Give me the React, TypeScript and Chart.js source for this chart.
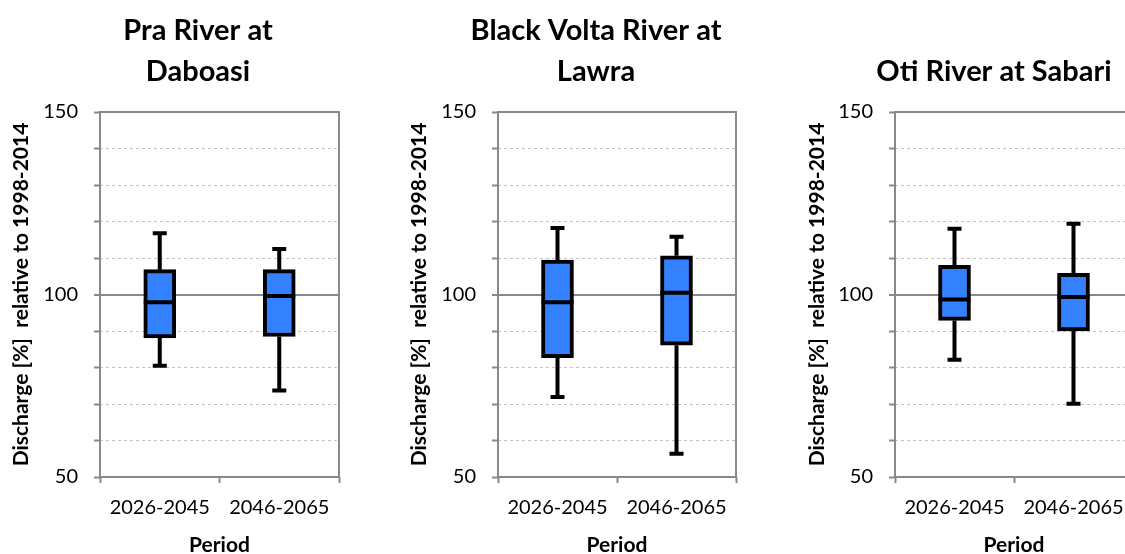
import React, { useEffect, useRef } from 'react';
import { Chart, registerables } from 'chart.js';

Chart.register(...registerables);

// ---- data ----
const categories = ['2026-2045', '2046-2065'];
const yTickLabels = [50, 100, 150];
const yMinorStep = 10;

const panelTitles: (string | string[])[] = [
  ['Pra River at', 'Daboasi'],
  ['Black Volta River at', 'Lawra'],
  'Oti River at Sabari',
];

const praMin = [80.5, 73.7];
const praQ1 = [88.1, 88.5];
const praMedian = [97.9, 99.6];
const praQ3 = [106.8, 106.8];
const praMax = [116.8, 112.5];

const blackVoltaMin = [71.9, 56.4];
const blackVoltaQ1 = [82.7, 86.1];
const blackVoltaMedian = [97.9, 100.5];
const blackVoltaQ3 = [109.4, 110.6];
const blackVoltaMax = [118.2, 115.8];

const otiMin = [82.1, 70.1];
const otiQ1 = [92.9, 90.0];
const otiMedian = [98.6, 99.3];
const otiQ3 = [108.0, 105.8];
const otiMax = [118.0, 119.4];

const yAxisTitle = 'Discharge [%]  relative to 1998-2014';
const xAxisTitle = 'Period';

type Stats = { min: number[]; q1: number[]; med: number[]; q3: number[]; max: number[] };

const panelStats: Stats[] = [
  { min: praMin, q1: praQ1, med: praMedian, q3: praQ3, max: praMax },
  { min: blackVoltaMin, q1: blackVoltaQ1, med: blackVoltaMedian, q3: blackVoltaQ3, max: blackVoltaMax },
  { min: otiMin, q1: otiQ1, med: otiMedian, q3: otiQ3, max: otiMax },
];

// ---- layout / style ----
const CANVAS_W = 396;
const CANVAS_H = 554;
const panelLayout = [
  { left: 0, yAxisW: 100, rightW: 57 },
  { left: 398, yAxisW: 100, rightW: 58 },
  { left: 796, yAxisW: 99, rightW: 59 },
];
const FONT = 'Lato, Carlito, Calibri, "Open Sans", sans-serif';
const BOX_FILL = '#3381ff';
const FRAME_GRAY = '#898989';
const DASH_GRAY = '#c4c4c4';
const BOX_W = 32;
const CAP_W = 14;
const LINE_W = 4;

function makeBoxPlugin(stats: Stats) {
  return {
    id: 'boxWhiskers',
    beforeDatasetsDraw(chart: any) {
      const { ctx, chartArea: a, scales } = chart;
      const x = scales.x;
      const y = scales.y;
      ctx.save();
      ctx.strokeStyle = FRAME_GRAY;
      ctx.lineWidth = 2;
      ctx.strokeRect(a.left, a.top, a.right - a.left, a.bottom - a.top);
      ctx.strokeStyle = '#000';
      ctx.lineWidth = LINE_W;
      ctx.lineCap = 'butt';
      stats.min.forEach((_, i) => {
        const cx = x.getPixelForValue(i);
        const pMin = y.getPixelForValue(stats.min[i]);
        const pQ1 = y.getPixelForValue(stats.q1[i]);
        const pQ3 = y.getPixelForValue(stats.q3[i]);
        const pMax = y.getPixelForValue(stats.max[i]);
        ctx.beginPath();
        ctx.moveTo(cx, pQ3);
        ctx.lineTo(cx, pMax);
        ctx.moveTo(cx, pQ1);
        ctx.lineTo(cx, pMin);
        ctx.moveTo(cx - CAP_W / 2, pMax);
        ctx.lineTo(cx + CAP_W / 2, pMax);
        ctx.moveTo(cx - CAP_W / 2, pMin);
        ctx.lineTo(cx + CAP_W / 2, pMin);
        ctx.stroke();
      });
      ctx.restore();
    },
    afterDatasetsDraw(chart: any) {
      const { ctx, scales } = chart;
      const x = scales.x;
      const y = scales.y;
      ctx.save();
      ctx.strokeStyle = '#000';
      ctx.lineWidth = LINE_W;
      stats.med.forEach((m, i) => {
        const cx = x.getPixelForValue(i);
        const pm = y.getPixelForValue(m);
        ctx.beginPath();
        ctx.moveTo(cx - BOX_W / 2, pm);
        ctx.lineTo(cx + BOX_W / 2, pm);
        ctx.stroke();
      });
      ctx.restore();
    },
  };
}

function Panel({ idx }: { idx: number }) {
  const ref = useRef<HTMLCanvasElement | null>(null);
  useEffect(() => {
    if (!ref.current) return;
    const stats = panelStats[idx];
    const lay = panelLayout[idx];
    const title = panelTitles[idx];
    const isTwoLine = Array.isArray(title);
    const chart = new Chart(ref.current, {
      type: 'bar',
      data: {
        labels: categories,
        datasets: [
          {
            data: stats.q1.map((q, i) => [q, stats.q3[i]]) as any,
            backgroundColor: BOX_FILL,
            borderColor: '#000',
            borderWidth: LINE_W,
            borderSkipped: false,
            barThickness: BOX_W,
          },
        ],
      },
      plugins: [makeBoxPlugin(stats)],
      options: {
        responsive: false,
        animation: false,
        events: [],
        layout: { padding: 0 },
        plugins: {
          legend: { display: false },
          tooltip: { enabled: false },
          title: {
            display: true,
            text: title as any,
            color: '#000',
            font: { family: FONT, size: 29, weight: 'bold', lineHeight: '41px' as any },
            padding: { top: isTwoLine ? 10 : 51, bottom: 20 },
          },
        },
        scales: {
          x: {
            type: 'category',
            grid: {
              display: true,
              drawOnChartArea: false,
              drawTicks: true,
              tickLength: 6,
              tickColor: FRAME_GRAY,
              tickWidth: 2,
              offset: true,
            } as any,
            border: { display: false },
            ticks: {
              color: '#000',
              font: { family: FONT, size: 20 },
              padding: 13,
              maxRotation: 0,
              autoSkip: false,
            },
            title: {
              display: true,
              text: xAxisTitle,
              color: '#000',
              font: { family: FONT, size: 21, weight: 'bold', lineHeight: 0.85 },
              padding: 0,
            },
            afterFit: (s: any) => {
              s.height = 77;
            },
          },
          y: {
            type: 'linear',
            min: yTickLabels[0],
            max: yTickLabels[yTickLabels.length - 1],
            grid: {
              color: (c: any) => (c.tick && c.tick.value === yTickLabels[1] ? FRAME_GRAY : DASH_GRAY),
              lineWidth: (c: any) => (c.tick && c.tick.value === yTickLabels[1] ? 2 : 1),
              tickColor: FRAME_GRAY,
              tickWidth: 2,
              tickLength: 6,
              tickBorderDash: [],
            } as any,
            border: {
              display: false,
              dash: (c: any) => (c.tick && c.tick.value === yTickLabels[1] ? [] : [3, 3]),
            } as any,
            ticks: {
              stepSize: yMinorStep,
              autoSkip: false,
              color: '#000',
              font: { family: FONT, size: 20 },
              padding: 16,
              callback: (v: any) => (yTickLabels.includes(Number(v)) ? String(v) : ''),
            },
            title: {
              display: true,
              text: yAxisTitle,
              color: '#000',
              font: { family: FONT, size: 21, weight: 'bold', lineHeight: 1.2 },
              padding: { top: 9, bottom: 0 },
            },
            afterFit: (s: any) => {
              s.width = lay.yAxisW;
            },
          },
          yR: {
            type: 'linear',
            position: 'right',
            display: true,
            grid: { display: false },
            border: { display: false },
            ticks: { display: false },
            afterFit: (s: any) => {
              s.width = lay.rightW;
            },
          },
        },
      } as any,
    });
    return () => chart.destroy();
  }, [idx]);
  const lay = panelLayout[idx];
  return (
    <canvas
      ref={ref}
      width={CANVAS_W}
      height={CANVAS_H}
      style={{ position: 'absolute', left: lay.left, top: 0, width: CANVAS_W, height: CANVAS_H }}
    />
  );
}

export default function App() {
  useEffect(() => {
    document.body.style.margin = '0';
  }, []);
  return (
    <div
      style={{
        position: 'fixed',
        left: 0,
        top: 0,
        width: 1125,
        height: 554,
        overflow: 'hidden',
        background: '#fff',
      }}
    >
      {panelStats.map((_, i) => (
        <Panel key={i} idx={i} />
      ))}
    </div>
  );
}
